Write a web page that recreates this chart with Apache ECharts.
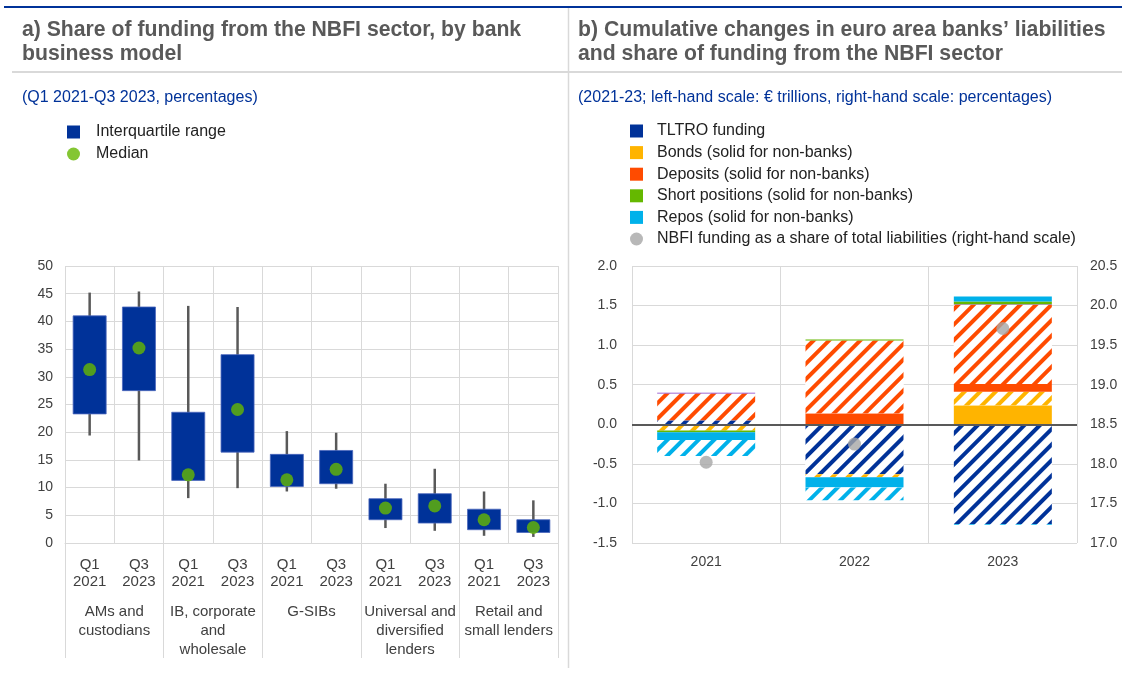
<!DOCTYPE html>
<html>
<head>
<meta charset="utf-8">
<script src="https://cdn.jsdelivr.net/npm/echarts@6/dist/echarts.min.js"></script>
<style>html,body{margin:0;padding:0;background:#fff}#c{width:1122px;height:674px}</style>
</head>
<body>
<div id="c"></div>
<script>
// ---------- Panel a data ----------
const periodLabels = ['Q1\n2021','Q3\n2023','Q1\n2021','Q3\n2023','Q1\n2021','Q3\n2023','Q1\n2021','Q3\n2023','Q1\n2021','Q3\n2023'];
const groupLabels = ['AMs and\ncustodians','IB, corporate\nand\nwholesale','G-SIBs','Universal and\ndiversified\nlenders','Retail and\nsmall lenders'];
const whiskerLow  = [19.4, 14.9,  8.1,  9.9,  9.3,  9.8, 2.7, 2.2, 1.3, 1.1];
const quartile1   = [23.3, 27.5, 11.3, 16.4, 10.2, 10.7, 4.2, 3.6, 2.4, 1.9];
const quartile3   = [41.0, 42.6, 23.6, 34.0, 16.0, 16.7, 8.0, 8.9, 6.1, 4.2];
const whiskerHigh = [45.2, 45.4, 42.8, 42.6, 20.2, 19.9,10.7,13.4, 9.3, 7.7];
const medians     = [31.3, 35.2, 12.3, 24.1, 11.4, 13.3, 6.3, 6.7, 4.2, 2.8];
const yTicksA = {min:0, max:50, interval:5};

// ---------- Panel b data ----------
const years = ['2021','2022','2023'];
const tltroBanks       = [0.05, -0.63, -1.26];
const bondsNonBanks    = [0,     0,     0.24];
const bondsBanks       = [-0.08,-0.04,  0.17];
const depositsNonBanks = [0,     0.14,  0.10];
const depositsBanks    = [0.34,  0.92,  1.00];
const otherSmall       = [0.01,  0,     0.006];
const shortNonBanks    = [-0.02, 0.012, 0.034];
const reposNonBanks    = [-0.10,-0.13,  0.066];
const reposBanks       = [-0.20,-0.16, -0.01];
const nbfiShare        = [18.02, 18.25, 19.71];
const yTicksBLeft  = {min:-1.5, max:2.0, interval:0.5};
const yTicksBRight = {min:17.0, max:20.5, interval:0.5};

const C = {blue:'#003299', yellow:'#ffb400', red:'#ff4b00', green:'#65b800', cyan:'#00b1ea', purple:'#8139c6', grey:'#a6a6a6'};
const FONT = '"Liberation Sans", Arial, sans-serif';
const gridLine = {lineStyle:{color:'#d9d9d9', width:1}};
const axisText = {fontFamily:FONT, fontSize:14, color:'#404040'};
const catText = {fontFamily:FONT, fontSize:15, color:'#404040'};

function hatch(col){
  return {color:'#ffffff', decal:{symbol:'rect', symbolSize:1, color:col, backgroundColor:'#ffffff',
    dashArrayX:[1,0], dashArrayY:[4,7], rotation:-Math.PI/4}};
}
function barSeries(name, data, style, extra){
  return Object.assign({type:'bar', name, data, stack:'b', xAxisIndex:2, yAxisIndex:1,
    barWidth:98, itemStyle:style, emphasis:{disabled:true}, animation:false}, extra||{});
}

const chart = echarts.init(document.getElementById('c'), null, {renderer:'canvas'});
const boxData = periodLabels.map((_, i) => [i, whiskerLow[i], quartile1[i], quartile3[i], whiskerHigh[i]]);
const legendText = {fontFamily:FONT, fontSize:16, color:'#222'};

chart.setOption({
  animation:false,
  textStyle:{fontFamily:FONT},
  title:[
    {text:'a) Share of funding from the NBFI sector, by bank\nbusiness model', left:22, top:18, padding:0,
     textStyle:{fontFamily:FONT, fontSize:21.2, fontWeight:'bold', color:'#595959', lineHeight:24}},
    {text:'(Q1 2021-Q3 2023, percentages)', left:22, top:90, padding:0,
     textStyle:{fontFamily:FONT, fontSize:16, fontWeight:'normal', color:'#003299'}},
    {text:'b) Cumulative changes in euro area banks\u2019 liabilities\nand share of funding from the NBFI sector', left:578, top:18, padding:0,
     textStyle:{fontFamily:FONT, fontSize:21.2, fontWeight:'bold', color:'#595959', lineHeight:24}},
    {text:'(2021-23; left-hand scale: \u20ac trillions, right-hand scale: percentages)', left:578, top:90, padding:0,
     textStyle:{fontFamily:FONT, fontSize:16, fontWeight:'normal', color:'#003299'}}
  ],
  graphic:[
    {type:'line', shape:{x1:4, y1:7, x2:1122, y2:7}, style:{stroke:'#003299', lineWidth:2}},
    {type:'line', shape:{x1:12, y1:72, x2:1122, y2:72}, style:{stroke:'#d9d9d9', lineWidth:2}},
    {type:'line', shape:{x1:568.5, y1:8, x2:568.5, y2:668}, style:{stroke:'#d9d9d9', lineWidth:1.5}}
  ],
  legend:[
    {orient:'vertical', left:67, top:124, padding:0, itemWidth:13, itemHeight:13, itemGap:6,
     textStyle:Object.assign({padding:[0,0,0,11]}, legendText),
     data:[{name:'Interquartile range', icon:'rect'}, {name:'Median', icon:'circle'}]},
    {orient:'vertical', left:630, top:123, padding:0, itemWidth:13, itemHeight:13, itemGap:5.6,
     textStyle:Object.assign({padding:[0,0,0,9]}, legendText),
     data:[{name:'TLTRO funding', icon:'rect'}, {name:'Bonds (solid for non-banks)', icon:'rect'},
           {name:'Deposits (solid for non-banks)', icon:'rect'}, {name:'Short positions (solid for non-banks)', icon:'rect'},
           {name:'Repos (solid for non-banks)', icon:'rect'},
           {name:'NBFI funding as a share of total liabilities (right-hand scale)', icon:'circle'}]}
  ],
  grid:[
    {left:65, right:564, top:266, bottom:131},
    {left:632, right:45, top:266, bottom:131}
  ],
  xAxis:[
    {type:'category', gridIndex:0, data:periodLabels, boundaryGap:true,
     axisLine:{show:false}, axisTick:{show:false},
     axisLabel:Object.assign({margin:13, lineHeight:17, interval:0}, catText),
     splitLine:Object.assign({show:true, interval:0}, gridLine)},
    {type:'category', gridIndex:0, data:groupLabels, boundaryGap:true, position:'bottom',
     axisLine:{show:true, lineStyle:{color:'#d9d9d9', width:1}},
     axisTick:{show:true, length:115, interval:0, lineStyle:{color:'#d9d9d9', width:1}},
     axisLabel:Object.assign({margin:59, lineHeight:19, interval:0}, catText),
     splitLine:{show:false}},
    {type:'category', gridIndex:1, data:years, boundaryGap:true,
     axisLine:{show:false, onZero:false}, axisTick:{show:false},
     axisLabel:Object.assign({margin:12}, axisText),
     splitLine:Object.assign({show:true, interval:0}, gridLine)}
  ],
  yAxis:[
    Object.assign({type:'value', gridIndex:0, axisLine:{show:false}, axisTick:{show:false},
     axisLabel:Object.assign({margin:12}, axisText), splitLine:Object.assign({show:true}, gridLine)}, yTicksA),
    Object.assign({type:'value', gridIndex:1, position:'left', axisLine:{show:false}, axisTick:{show:false},
     axisLabel:Object.assign({margin:15, formatter:v=>v.toFixed(1)}, axisText), splitLine:Object.assign({show:true}, gridLine)}, yTicksBLeft),
    Object.assign({type:'value', gridIndex:1, position:'right', axisLine:{show:false}, axisTick:{show:false},
     axisLabel:Object.assign({margin:13, formatter:v=>v.toFixed(1)}, axisText), splitLine:{show:false}}, yTicksBRight)
  ],
  series:[
    {type:'custom', name:'Interquartile range', xAxisIndex:0, yAxisIndex:0, data:boxData,
     encode:{x:0, y:[1,2,3,4]}, itemStyle:{color:C.blue}, animation:false,
     renderItem:function(params, api){
       const x = api.value(0);
       const lo = api.coord([x, api.value(1)]);
       const q1 = api.coord([x, api.value(2)]);
       const q3 = api.coord([x, api.value(3)]);
       const hi = api.coord([x, api.value(4)]);
       const w = api.size([1, 0])[0] * 0.67;
       return {type:'group', children:[
         {type:'line', shape:{x1:lo[0], y1:lo[1], x2:hi[0], y2:hi[1]}, style:{stroke:'#595959', lineWidth:2.5}},
         {type:'rect', shape:{x:q3[0]-w/2, y:q3[1], width:w, height:q1[1]-q3[1]}, style:{fill:C.blue, stroke:'#4a67bd', lineWidth:0.8}}
       ]};
     }},
    {type:'scatter', name:'Median', xAxisIndex:0, yAxisIndex:0, data:medians, symbolSize:13,
     itemStyle:{color:C.green}, z:5, animation:false},

    barSeries('TLTRO funding', years.map(()=>null), {color:C.blue}),
    barSeries('TLTRO (banks)', tltroBanks, hatch(C.blue)),
    barSeries('Bonds (solid for non-banks)', bondsNonBanks, {color:C.yellow}),
    barSeries('Bonds (banks)', bondsBanks, hatch(C.yellow)),
    barSeries('Deposits (solid for non-banks)', depositsNonBanks, {color:C.red}),
    barSeries('Deposits (banks)', depositsBanks, hatch(C.red)),
    barSeries('Other', otherSmall, {color:C.purple}),
    barSeries('Short positions (solid for non-banks)', shortNonBanks, {color:C.green}),
    barSeries('Repos (solid for non-banks)', reposNonBanks, {color:C.cyan}),
    barSeries('Repos (banks)', reposBanks, hatch(C.cyan), {
      markLine:{silent:true, symbol:'none', animation:false, label:{show:false},
        lineStyle:{color:'#595959', width:2, type:'solid'}, data:[{yAxis:0}]}}),
    {type:'scatter', name:'NBFI funding as a share of total liabilities (right-hand scale)', xAxisIndex:2, yAxisIndex:2,
     data:nbfiShare, symbolSize:13, itemStyle:{color:C.grey}, z:6, animation:false}
  ]
});
</script>
</body>
</html>
